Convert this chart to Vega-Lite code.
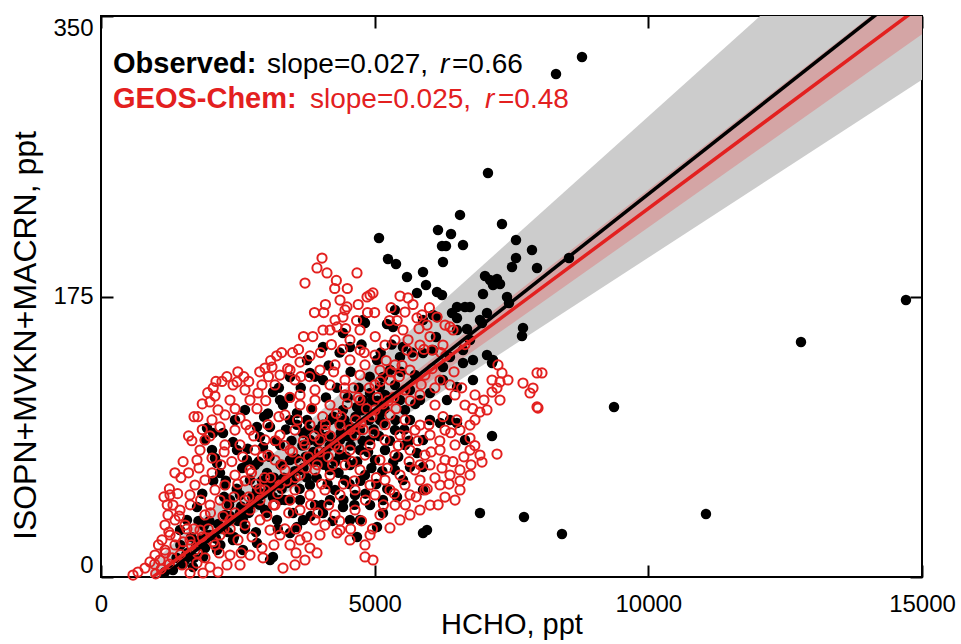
{
"$schema": "https://vega.github.io/schema/vega-lite/v6.json",
"width": 821, "height": 561,
"autosize": {"type": "none"},
"padding": {"left": 101, "top": 16, "right": 39, "bottom": 67},
"background": "white",
"config": {
 "view": {"stroke": "black", "strokeWidth": 2},
 "axis": {"grid": false, "domain": false, "tickColor": "black", "tickWidth": 2, "tickSize": 12, "offset": -12, "labelFont": "Liberation Sans", "labelFontSize": 24, "labelColor": "black", "titleFont": "Liberation Sans", "titleFontSize": 29, "titleFontWeight": "normal", "titleColor": "black"}
},
"resolve": {"axis": {"x": "independent", "y": "independent"}},
"datasets": {
 "grey": [{"hcho": 900, "lo": -2.7, "hi": 8.0}, {"hcho": 15000, "lo": 310.2, "hi": 440.8}],
 "pink": [{"hcho": 950, "lo": 0, "hi": 0}, {"hcho": 15000, "lo": 338.6, "hi": 375.2}],
 "fitobs": [{"hcho": 1120, "val": 0}, {"hcho": 15000, "val": 373.4}],
 "fitgc": [{"hcho": 950, "val": 0}, {"hcho": 15000, "val": 356.9}],
 "legend": [
  {"hcho": 219, "val": 314.4, "txt": "Observed:", "part": "bold", "c": "obs"},
  {"hcho": 3033, "val": 314.4, "txt": "slope=0.027,", "part": "reg", "c": "obs"},
  {"hcho": 6194, "val": 314.4, "txt": "r", "part": "ital", "c": "obs"},
  {"hcho": 6413, "val": 314.4, "txt": "=0.66", "part": "reg", "c": "obs"},
  {"hcho": 219, "val": 292.6, "txt": "GEOS-Chem:", "part": "bold", "c": "gc"},
  {"hcho": 3818, "val": 292.6, "txt": "slope=0.025,", "part": "reg", "c": "gc"},
  {"hcho": 7016, "val": 292.6, "txt": "r", "part": "ital", "c": "gc"},
  {"hcho": 7253, "val": 292.6, "txt": "=0.48", "part": "reg", "c": "gc"}
 ],
 "obs": [
{"hcho":8788,"val":324.4},{"hcho":8313,"val":313.8},{"hcho":7070,"val":252.1},{"hcho":7326,"val":220.2},{"hcho":6559,"val":225.9},{"hcho":6157,"val":216.5},{"hcho":6395,"val":214.0},{"hcho":5079,"val":211.5},{"hcho":6230,"val":206.5},{"hcho":6303,"val":206.5},{"hcho":6614,"val":207.1},{"hcho":7582,"val":210.3},{"hcho":7874,"val":204.0},{"hcho":5243,"val":198.4},{"hcho":5390,"val":195.3},{"hcho":6248,"val":196.5},{"hcho":7582,"val":199.0},{"hcho":7509,"val":193.4},{"hcho":7966,"val":192.8},{"hcho":8550,"val":199.0},{"hcho":5883,"val":190.3},{"hcho":5591,"val":187.2},{"hcho":7016,"val":187.8},{"hcho":7107,"val":185.3},{"hcho":7235,"val":185.9},{"hcho":7162,"val":182.2},{"hcho":7290,"val":182.8},{"hcho":5938,"val":182.2},{"hcho":6139,"val":177.8},{"hcho":6230,"val":175.9},{"hcho":5773,"val":177.2},{"hcho":6979,"val":176.6},{"hcho":7418,"val":174.7},{"hcho":7454,"val":170.9},{"hcho":6650,"val":168.5},{"hcho":6413,"val":164.7},{"hcho":6504,"val":161.6},{"hcho":6066,"val":163.5},{"hcho":6961,"val":158.5},{"hcho":6687,"val":154.7},{"hcho":7710,"val":155.4},{"hcho":7692,"val":150.4},{"hcho":5371,"val":166.6},{"hcho":4823,"val":158.5},{"hcho":5225,"val":157.8},{"hcho":6120,"val":149.7},{"hcho":6742,"val":147.9},{"hcho":7144,"val":133.5},{"hcho":9373,"val":106.1},{"hcho":12789,"val":146.6},{"hcho":14707,"val":172.8},{"hcho":7144,"val":88.0},{"hcho":6924,"val":39.9},{"hcho":7728,"val":37.4},{"hcho":8422,"val":26.8},{"hcho":11053,"val":39.3},
{"hcho":6011,"val":114.8},{"hcho":6248,"val":122.9},{"hcho":6504,"val":118.5},{"hcho":6796,"val":122.9},{"hcho":6614,"val":133.5},{"hcho":6796,"val":135.4},{"hcho":7052,"val":138.5},{"hcho":6248,"val":131.0},{"hcho":6376,"val":137.3},{"hcho":6066,"val":141.6},{"hcho":5883,"val":139.8},{"hcho":6614,"val":141.6},{"hcho":5883,"val":160.3},{"hcho":6139,"val":162.2},{"hcho":6504,"val":154.1},{"hcho":6924,"val":160.3},{"hcho":7162,"val":135.4},{"hcho":6504,"val":168.5},{"hcho":6742,"val":168.5},{"hcho":7052,"val":164.7},{"hcho":6504,"val":96.1},{"hcho":6376,"val":98.0},{"hcho":6011,"val":98.0},{"hcho":6194,"val":96.1},{"hcho":5883,"val":85.5},{"hcho":5773,"val":77.4},{"hcho":5645,"val":68.6},{"hcho":5518,"val":60.5},{"hcho":5883,"val":68.6},{"hcho":5883,"val":54.3},{"hcho":5883,"val":27.5},{"hcho":5956,"val":29.3},{"hcho":5408,"val":49.9},{"hcho":5152,"val":48.0},{"hcho":5152,"val":39.9},{"hcho":5043,"val":31.2},{"hcho":4677,"val":25.0},{"hcho":4421,"val":43.7},{"hcho":4056,"val":39.9},{"hcho":3691,"val":35.6},{"hcho":3453,"val":27.5},{"hcho":3216,"val":35.6},{"hcho":2594,"val":35.6},{"hcho":2850,"val":21.2},{"hcho":3088,"val":10.6},{"hcho":4421,"val":104.2},{"hcho":4549,"val":93.6},{"hcho":4677,"val":106.1},{"hcho":4787,"val":110.4},{"hcho":4915,"val":114.8},{"hcho":5097,"val":118.5},{"hcho":5152,"val":124.8},{"hcho":5280,"val":129.1},{"hcho":5463,"val":137.3},{"hcho":5335,"val":156.0},{"hcho":5518,"val":143.5},{"hcho":5043,"val":135.4},{"hcho":4787,"val":160.3},{"hcho":4421,"val":152.2},{"hcho":4549,"val":143.5},{"hcho":4056,"val":143.5},{"hcho":3764,"val":135.4},{"hcho":3818,"val":127.3},{"hcho":4056,"val":122.9},{"hcho":3453,"val":124.8},{"hcho":3270,"val":110.4},{"hcho":3142,"val":115.4},{"hcho":3325,"val":107.3},{"hcho":3453,"val":98.0},{"hcho":3581,"val":102.3},{"hcho":3764,"val":98.0},{"hcho":3691,"val":89.8},{"hcho":3818,"val":85.5},{"hcho":4056,"val":87.3},{"hcho":4184,"val":98.0},{"hcho":3088,"val":93.6},{"hcho":2850,"val":93.6},{"hcho":2905,"val":87.3},{"hcho":2960,"val":81.1},{"hcho":2667,"val":73.0},{"hcho":2412,"val":84.2},{"hcho":2229,"val":89.8},{"hcho":2485,"val":79.2},{"hcho":1937,"val":93.0},{"hcho":2046,"val":89.8},{"hcho":1900,"val":85.5},{"hcho":2028,"val":79.2},{"hcho":2083,"val":74.2},{"hcho":2174,"val":64.9},{"hcho":2119,"val":71.1},{"hcho":3142,"val":12.5},{"hcho":2412,"val":23.1},{"hcho":1571,"val":35.6},{"hcho":1754,"val":43.7},{"hcho":3033,"val":64.9},{"hcho":2850,"val":54.3},{"hcho":3398,"val":58.6},{"hcho":3270,"val":48.0},{"hcho":3508,"val":39.9},{"hcho":3581,"val":31.2},{"hcho":2594,"val":16.8},{"hcho":2119,"val":16.8},{"hcho":1864,"val":12.5},{"hcho":1681,"val":6.2},{"hcho":1315,"val":4.4},{"hcho":1443,"val":29.3},{"hcho":1809,"val":23.1},{"hcho":1169,"val":3.1},{"hcho":1535,"val":10.6},{"hcho":1991,"val":26.2},{"hcho":2265,"val":38.7},{"hcho":2357,"val":48.0},{"hcho":2540,"val":51.2},{"hcho":2722,"val":60.5},
{"hcho":4001,"val":73.0},{"hcho":4184,"val":66.8},{"hcho":4367,"val":76.1},{"hcho":4549,"val":69.9},{"hcho":4732,"val":79.2},{"hcho":4275,"val":54.3},{"hcho":4458,"val":60.5},{"hcho":4641,"val":51.2},{"hcho":4823,"val":63.6},{"hcho":5006,"val":73.0},{"hcho":4915,"val":85.5},{"hcho":5189,"val":79.2},{"hcho":5371,"val":66.8},{"hcho":3636,"val":66.8},{"hcho":3818,"val":57.4},{"hcho":3453,"val":73.0},{"hcho":3270,"val":82.4},{"hcho":3636,"val":48.0},{"hcho":3910,"val":44.9},{"hcho":4184,"val":48.0},{"hcho":2996,"val":41.8},{"hcho":2814,"val":69.9},{"hcho":3088,"val":57.4},{"hcho":4732,"val":35.6},{"hcho":4915,"val":44.9},{"hcho":4549,"val":35.6},{"hcho":5371,"val":91.7},{"hcho":5554,"val":82.4},{"hcho":5645,"val":98.0},{"hcho":5097,"val":98.0},{"hcho":4732,"val":91.7},{"hcho":4367,"val":85.5},{"hcho":4092,"val":76.1},{"hcho":5463,"val":110.4},{"hcho":5645,"val":116.7},{"hcho":5737,"val":126.0},{"hcho":5828,"val":110.4},{"hcho":5554,"val":104.2},{"hcho":6650,"val":85.5},{"hcho":6321,"val":110.4},{"hcho":5371,"val":119.8},{"hcho":5189,"val":113.6},{"hcho":2631,"val":104.2},{"hcho":2448,"val":98.0},{"hcho":2265,"val":57.4},
{"hcho":2230,"val":30},{"hcho":2340,"val":45},{"hcho":2280,"val":60},{"hcho":2430,"val":25},{"hcho":2540,"val":40},{"hcho":2480,"val":55},{"hcho":2580,"val":68},{"hcho":2630,"val":30},{"hcho":2740,"val":45},{"hcho":2680,"val":80},{"hcho":2830,"val":28},{"hcho":2940,"val":60},{"hcho":2880,"val":72},{"hcho":2980,"val":100},{"hcho":3030,"val":40},{"hcho":3140,"val":50},{"hcho":3080,"val":75},{"hcho":3180,"val":85},{"hcho":3050,"val":102},{"hcho":3230,"val":30},{"hcho":3340,"val":62},{"hcho":3280,"val":70},{"hcho":3380,"val":92},{"hcho":3250,"val":118},{"hcho":3430,"val":48},{"hcho":3540,"val":66},{"hcho":3480,"val":85},{"hcho":3580,"val":95},{"hcho":3450,"val":112},{"hcho":3630,"val":55},{"hcho":3740,"val":75},{"hcho":3680,"val":82},{"hcho":3780,"val":92},{"hcho":3650,"val":118},{"hcho":3830,"val":38},{"hcho":3940,"val":62},{"hcho":3880,"val":78},{"hcho":3980,"val":92},{"hcho":3850,"val":105},{"hcho":3910,"val":125},{"hcho":4030,"val":45},{"hcho":4140,"val":58},{"hcho":4080,"val":70},{"hcho":4180,"val":82},{"hcho":4050,"val":95},{"hcho":4110,"val":112},{"hcho":4160,"val":132},{"hcho":4230,"val":35},{"hcho":4340,"val":65},{"hcho":4280,"val":72},{"hcho":4380,"val":90},{"hcho":4250,"val":100},{"hcho":4310,"val":118},{"hcho":4360,"val":140},{"hcho":4430,"val":48},{"hcho":4540,"val":58},{"hcho":4480,"val":75},{"hcho":4580,"val":88},{"hcho":4450,"val":98},{"hcho":4510,"val":112},{"hcho":4560,"val":128},{"hcho":4630,"val":45},{"hcho":4740,"val":60},{"hcho":4680,"val":72},{"hcho":4780,"val":85},{"hcho":4650,"val":100},{"hcho":4710,"val":118},{"hcho":4760,"val":145},{"hcho":4830,"val":52},{"hcho":4940,"val":68},{"hcho":4880,"val":78},{"hcho":4980,"val":92},{"hcho":4850,"val":105},{"hcho":4910,"val":125},{"hcho":5030,"val":58},{"hcho":5140,"val":66},{"hcho":5080,"val":88},{"hcho":5180,"val":105},{"hcho":5050,"val":110},{"hcho":5110,"val":140},{"hcho":5230,"val":55},{"hcho":5340,"val":72},{"hcho":5280,"val":85},{"hcho":5380,"val":98},{"hcho":5250,"val":112},{"hcho":5310,"val":145},{"hcho":5430,"val":75},{"hcho":5540,"val":92},{"hcho":5480,"val":128},{"hcho":5630,"val":85},{"hcho":5740,"val":108},{"hcho":5680,"val":140},{"hcho":1380,"val":12},{"hcho":1450,"val":20},{"hcho":1580,"val":15},{"hcho":1650,"val":25},{"hcho":1780,"val":35},{"hcho":1850,"val":52},{"hcho":1980,"val":35},{"hcho":2050,"val":60},{"hcho":2180,"val":20},{"hcho":2250,"val":50},
{"hcho":1500,"val":8},{"hcho":1560,"val":14},{"hcho":1700,"val":12},{"hcho":1740,"val":20},{"hcho":1900,"val":18},{"hcho":1940,"val":26},{"hcho":1880,"val":32},{"hcho":2100,"val":24},{"hcho":2140,"val":33},{"hcho":2320,"val":28},{"hcho":2360,"val":38},{"hcho":2500,"val":35},{"hcho":2560,"val":44},{"hcho":2700,"val":40},{"hcho":2760,"val":50},{"hcho":2900,"val":45},{"hcho":2960,"val":52},{"hcho":3100,"val":55},{"hcho":3160,"val":62},{"hcho":3300,"val":55},{"hcho":3360,"val":48},{"hcho":3500,"val":60},{"hcho":3560,"val":74},{"hcho":3700,"val":68},{"hcho":3760,"val":62},{"hcho":3900,"val":72},{"hcho":3960,"val":84},{"hcho":4100,"val":78},{"hcho":4160,"val":88},{"hcho":4300,"val":82},{"hcho":4360,"val":96},{"hcho":4500,"val":88},{"hcho":4560,"val":82},{"hcho":4700,"val":92},{"hcho":4760,"val":104},{"hcho":4900,"val":98},{"hcho":4960,"val":110},{"hcho":5100,"val":102},{"hcho":5160,"val":96}
 ],
 "gc": [
{"hcho":4038,"val":199.0},{"hcho":3946,"val":192.8},{"hcho":4129,"val":189.7},{"hcho":3727,"val":183.4},{"hcho":4677,"val":189.7},{"hcho":4969,"val":177.2},{"hcho":4860,"val":174.7},{"hcho":4458,"val":166.6},{"hcho":4275,"val":160.3},{"hcho":4184,"val":154.1},{"hcho":4367,"val":172.8},{"hcho":5463,"val":175.3},{"hcho":5609,"val":174.1},{"hcho":5554,"val":165.3},{"hcho":5518,"val":154.1},{"hcho":5773,"val":161.6},{"hcho":5865,"val":163.5},{"hcho":6139,"val":162.2},{"hcho":6285,"val":157.2},{"hcho":6431,"val":154.1},{"hcho":5828,"val":144.7},{"hcho":6047,"val":141.6},{"hcho":6248,"val":144.7},{"hcho":5591,"val":141.6},{"hcho":5371,"val":147.9},{"hcho":5189,"val":144.7},{"hcho":5006,"val":138.5},{"hcho":4732,"val":141.6},{"hcho":4549,"val":147.9},{"hcho":4732,"val":154.1},{"hcho":3818,"val":137.9},{"hcho":3636,"val":134.1},{"hcho":3453,"val":129.1},{"hcho":3544,"val":122.9},{"hcho":3270,"val":126.0},{"hcho":2996,"val":130.4},{"hcho":3124,"val":131.0},{"hcho":3179,"val":119.8},{"hcho":2941,"val":119.8},{"hcho":2485,"val":121.7},{"hcho":2412,"val":119.8},{"hcho":2631,"val":116.7},{"hcho":2722,"val":110.4},{"hcho":2868,"val":114.8},{"hcho":2357,"val":110.4},{"hcho":2083,"val":112.9},{"hcho":1991,"val":109.2},{"hcho":2138,"val":104.2},{"hcho":2265,"val":101.1},{"hcho":2540,"val":99.2},{"hcho":2028,"val":98.0},{"hcho":2174,"val":93.6},{"hcho":2448,"val":91.7},{"hcho":2722,"val":91.7},{"hcho":1900,"val":85.5},{"hcho":1809,"val":79.2},{"hcho":1754,"val":73.0},{"hcho":2028,"val":74.2},{"hcho":2265,"val":82.4},{"hcho":2540,"val":82.4},{"hcho":2814,"val":79.2},{"hcho":3051,"val":76.1},{"hcho":2722,"val":66.8},{"hcho":2448,"val":63.6},{"hcho":2265,"val":57.4},{"hcho":2083,"val":54.3},{"hcho":1900,"val":60.5},{"hcho":1717,"val":57.4},{"hcho":1626,"val":51.2},{"hcho":1261,"val":51.2},{"hcho":1315,"val":44.9},{"hcho":1224,"val":38.7},{"hcho":1352,"val":35.6},{"hcho":1169,"val":32.4},{"hcho":1261,"val":26.2},{"hcho":1114,"val":23.1},{"hcho":1352,"val":20.0},{"hcho":1169,"val":16.8},{"hcho":1078,"val":10.6},{"hcho":895,"val":9.4},{"hcho":804,"val":5.6},{"hcho":676,"val":3.1},{"hcho":585,"val":1.2},{"hcho":1443,"val":41.8},{"hcho":1535,"val":32.4},{"hcho":1626,"val":23.1},{"hcho":1717,"val":16.8},{"hcho":1480,"val":7.5},{"hcho":1809,"val":29.3},{"hcho":1900,"val":38.7},{"hcho":1991,"val":44.9},{"hcho":2174,"val":48.0},{"hcho":2357,"val":35.6},{"hcho":2174,"val":26.2},{"hcho":2083,"val":20.0},{"hcho":2357,"val":13.7},{"hcho":2503,"val":23.1},{"hcho":2631,"val":32.4},{"hcho":2905,"val":35.6},{"hcho":3088,"val":29.3},{"hcho":3270,"val":26.2},{"hcho":2722,"val":13.7},{"hcho":2540,"val":7.5},{"hcho":2941,"val":18.1},{"hcho":3453,"val":20.0},{"hcho":3636,"val":23.1},{"hcho":3818,"val":18.1},{"hcho":4001,"val":26.2},{"hcho":3325,"val":5.6},{"hcho":3544,"val":7.5},{"hcho":3727,"val":10.6},{"hcho":3910,"val":35.6},{"hcho":4092,"val":32.4},{"hcho":4367,"val":29.3},{"hcho":4549,"val":23.1},{"hcho":4823,"val":20.0},{"hcho":4915,"val":26.2},{"hcho":4823,"val":12.5},{"hcho":4969,"val":10.6},{"hcho":5280,"val":30.6},{"hcho":5463,"val":35.6},{"hcho":5645,"val":38.7},{"hcho":5828,"val":41.8},{"hcho":6011,"val":44.9},{"hcho":6285,"val":49.9},{"hcho":6468,"val":48.0},{"hcho":6559,"val":54.3},{"hcho":6194,"val":57.4},{"hcho":5919,"val":54.3},{"hcho":5645,"val":51.2},{"hcho":5371,"val":44.9},{"hcho":5097,"val":38.7},{"hcho":4641,"val":41.8},{"hcho":4275,"val":38.7},{"hcho":3636,"val":41.8},{"hcho":3453,"val":48.0},{"hcho":3179,"val":44.9},{"hcho":2905,"val":48.0},{"hcho":2722,"val":41.8},{"hcho":2631,"val":48.0},{"hcho":2996,"val":54.3},{"hcho":3270,"val":57.4},{"hcho":3544,"val":54.3},{"hcho":3818,"val":51.2},{"hcho":4092,"val":54.3},{"hcho":4367,"val":51.2},{"hcho":4641,"val":54.3},{"hcho":4915,"val":57.4},{"hcho":5189,"val":60.5},{"hcho":5463,"val":63.6},{"hcho":5737,"val":66.8},{"hcho":6011,"val":69.9},{"hcho":6285,"val":73.0},{"hcho":6559,"val":66.8},{"hcho":6742,"val":63.6},{"hcho":6376,"val":63.6},{"hcho":6102,"val":61.8},{"hcho":5828,"val":60.5},{"hcho":5554,"val":57.4},{"hcho":5280,"val":54.3},{"hcho":5006,"val":51.2},{"hcho":4732,"val":66.8},{"hcho":4458,"val":69.9},{"hcho":4184,"val":63.6},{"hcho":3910,"val":66.8},{"hcho":3636,"val":63.6},{"hcho":3362,"val":66.8},{"hcho":3179,"val":73.0},{"hcho":3453,"val":79.2},{"hcho":3727,"val":82.4},{"hcho":4001,"val":85.5},{"hcho":4275,"val":82.4},{"hcho":4549,"val":79.2},{"hcho":4823,"val":76.1},{"hcho":5097,"val":73.0},{"hcho":5371,"val":76.1},{"hcho":5645,"val":79.2},{"hcho":5919,"val":76.1},{"hcho":6194,"val":79.2},{"hcho":6468,"val":82.4},{"hcho":6742,"val":79.2},{"hcho":6924,"val":76.1},{"hcho":6559,"val":91.7},{"hcho":6742,"val":86.7},{"hcho":6285,"val":91.7},{"hcho":6011,"val":88.6},{"hcho":5737,"val":91.7},{"hcho":5463,"val":88.6},{"hcho":5189,"val":85.5},{"hcho":4915,"val":82.4},{"hcho":4641,"val":88.6},{"hcho":4367,"val":94.8},{"hcho":4092,"val":91.7},{"hcho":3818,"val":94.8},{"hcho":3544,"val":91.7},{"hcho":3270,"val":88.6},{"hcho":2996,"val":85.5},{"hcho":3362,"val":101.1},{"hcho":3636,"val":107.3},{"hcho":3910,"val":110.4},{"hcho":4184,"val":107.3},{"hcho":4458,"val":113.6},{"hcho":4732,"val":110.4},{"hcho":5006,"val":104.2},{"hcho":5280,"val":101.1},{"hcho":5554,"val":98.0},{"hcho":5828,"val":94.8},{"hcho":6102,"val":107.3},{"hcho":5828,"val":113.6},{"hcho":5554,"val":116.7},{"hcho":5280,"val":122.9},{"hcho":5006,"val":119.8},{"hcho":4732,"val":126.0},{"hcho":4458,"val":122.9},{"hcho":4184,"val":119.8},{"hcho":3910,"val":116.7},{"hcho":3636,"val":113.6},{"hcho":4001,"val":129.1},{"hcho":4275,"val":132.3},{"hcho":4549,"val":135.4},{"hcho":4823,"val":132.3},{"hcho":5097,"val":129.1},{"hcho":5371,"val":132.3},{"hcho":5645,"val":129.1},{"hcho":5919,"val":126.0},{"hcho":6194,"val":122.9},{"hcho":6376,"val":119.8},{"hcho":6468,"val":113.6},{"hcho":6650,"val":107.3},{"hcho":7253,"val":132.3},{"hcho":7144,"val":122.9},{"hcho":7326,"val":127.3},{"hcho":7436,"val":122.9},{"hcho":7290,"val":121.7},{"hcho":7235,"val":117.9},{"hcho":7144,"val":115.4},{"hcho":7290,"val":110.4},{"hcho":7710,"val":121.0},{"hcho":7893,"val":117.9},{"hcho":7838,"val":114.8},{"hcho":8057,"val":127.3},{"hcho":7984,"val":105.4},{"hcho":7052,"val":104.2},{"hcho":6924,"val":102.9},{"hcho":7235,"val":76.7},{"hcho":6961,"val":71.7},{"hcho":6833,"val":98.0},{"hcho":6742,"val":94.8},{"hcho":6833,"val":113.6},{"hcho":6997,"val":110.4},{"hcho":987,"val":13.7},{"hcho":1991,"val":6.2},{"hcho":2302,"val":7.5},{"hcho":2138,"val":3.1},{"hcho":1864,"val":2.5},{"hcho":1754,"val":8.7},{"hcho":1626,"val":2.5},{"hcho":4915,"val":175.9},{"hcho":4494,"val":168.5},{"hcho":4421,"val":162.2},{"hcho":4312,"val":156.0},{"hcho":4056,"val":154.1},{"hcho":5956,"val":157.2},{"hcho":6376,"val":156.0},{"hcho":3563,"val":15.0},{"hcho":3946,"val":15.0},{"hcho":4312,"val":27.5},{"hcho":7966,"val":127.3},{"hcho":7966,"val":106.1},
{"hcho":980,"val":8},{"hcho":1050,"val":20},{"hcho":1180,"val":15},{"hcho":1240,"val":28},{"hcho":1210,"val":45},{"hcho":1370,"val":25},{"hcho":1430,"val":38},{"hcho":1400,"val":52},{"hcho":1460,"val":62},{"hcho":1570,"val":30},{"hcho":1630,"val":45},{"hcho":1600,"val":65},{"hcho":1660,"val":85},{"hcho":1760,"val":15},{"hcho":1820,"val":48},{"hcho":1790,"val":68},{"hcho":1850,"val":92},{"hcho":1770,"val":100},{"hcho":1960,"val":30},{"hcho":2030,"val":65},{"hcho":1990,"val":88},{"hcho":2050,"val":118},{"hcho":2160,"val":15},{"hcho":2230,"val":38},{"hcho":2190,"val":70},{"hcho":2250,"val":78},{"hcho":2210,"val":122},{"hcho":2360,"val":30},{"hcho":2430,"val":50},{"hcho":2390,"val":72},{"hcho":2450,"val":105},{"hcho":2560,"val":15},{"hcho":2630,"val":60},{"hcho":2590,"val":75},{"hcho":2650,"val":95},{"hcho":2610,"val":125},{"hcho":2760,"val":25},{"hcho":2830,"val":58},{"hcho":2790,"val":88},{"hcho":2850,"val":105},{"hcho":2960,"val":12},{"hcho":3030,"val":38},{"hcho":2990,"val":62},{"hcho":3050,"val":95},{"hcho":3010,"val":110},{"hcho":3060,"val":125},{"hcho":3160,"val":20},{"hcho":3230,"val":52},{"hcho":3190,"val":85},{"hcho":3250,"val":100},{"hcho":3210,"val":138},{"hcho":3360,"val":30},{"hcho":3430,"val":40},{"hcho":3390,"val":60},{"hcho":3450,"val":112},{"hcho":3410,"val":130},{"hcho":3560,"val":30},{"hcho":3630,"val":72},{"hcho":3590,"val":98},{"hcho":3650,"val":125},{"hcho":3610,"val":142},{"hcho":3760,"val":25},{"hcho":3830,"val":45},{"hcho":3790,"val":75},{"hcho":3850,"val":105},{"hcho":3810,"val":125},{"hcho":3870,"val":150},{"hcho":3960,"val":40},{"hcho":4030,"val":58},{"hcho":3990,"val":78},{"hcho":4050,"val":100},{"hcho":4010,"val":140},{"hcho":4070,"val":165},{"hcho":4160,"val":45},{"hcho":4230,"val":70},{"hcho":4190,"val":88},{"hcho":4250,"val":128},{"hcho":4210,"val":145},{"hcho":4270,"val":180},{"hcho":4360,"val":35},{"hcho":4430,"val":58},{"hcho":4390,"val":100},{"hcho":4450,"val":118},{"hcho":4410,"val":142},{"hcho":4470,"val":155},{"hcho":4560,"val":30},{"hcho":4630,"val":60},{"hcho":4590,"val":72},{"hcho":4650,"val":98},{"hcho":4610,"val":118},{"hcho":4670,"val":160},{"hcho":4760,"val":35},{"hcho":4830,"val":48},{"hcho":4790,"val":92},{"hcho":4850,"val":105},{"hcho":4810,"val":140},{"hcho":4870,"val":165},{"hcho":4960,"val":30},{"hcho":5030,"val":62},{"hcho":4990,"val":90},{"hcho":5050,"val":112},{"hcho":5010,"val":150},{"hcho":5160,"val":45},{"hcho":5230,"val":68},{"hcho":5190,"val":95},{"hcho":5250,"val":110},{"hcho":5210,"val":135},{"hcho":5270,"val":160},{"hcho":5360,"val":52},{"hcho":5430,"val":82},{"hcho":5390,"val":105},{"hcho":5450,"val":125},{"hcho":5410,"val":160},{"hcho":5560,"val":45},{"hcho":5630,"val":72},{"hcho":5590,"val":88},{"hcho":5650,"val":110},{"hcho":5610,"val":148},{"hcho":5760,"val":50},{"hcho":5830,"val":70},{"hcho":5790,"val":85},{"hcho":5850,"val":120},{"hcho":5810,"val":155},{"hcho":5960,"val":55},{"hcho":6030,"val":78},{"hcho":5990,"val":95},{"hcho":6050,"val":130},{"hcho":6010,"val":150},{"hcho":6160,"val":45},{"hcho":6230,"val":68},{"hcho":6190,"val":85},{"hcho":6250,"val":100},{"hcho":6210,"val":140},{"hcho":6360,"val":58},{"hcho":6430,"val":72},{"hcho":6390,"val":90},{"hcho":6450,"val":128},{"hcho":6560,"val":60},{"hcho":6630,"val":75},{"hcho":6590,"val":118},{"hcho":6650,"val":145},{"hcho":6760,"val":70},{"hcho":6830,"val":82},{"hcho":6790,"val":105},
{"hcho":1000,"val":2},{"hcho":1100,"val":5},{"hcho":1250,"val":8},{"hcho":1300,"val":12},{"hcho":1450,"val":14},{"hcho":1500,"val":22},{"hcho":1650,"val":20},{"hcho":1700,"val":30},{"hcho":1850,"val":25},{"hcho":1900,"val":12},{"hcho":2000,"val":40},{"hcho":2050,"val":22},{"hcho":2250,"val":30},{"hcho":2300,"val":45},{"hcho":2450,"val":40},{"hcho":2500,"val":58},{"hcho":2700,"val":50},{"hcho":2750,"val":65},{"hcho":2900,"val":55},{"hcho":2950,"val":75},{"hcho":3100,"val":62},{"hcho":3150,"val":45},{"hcho":3300,"val":70},{"hcho":3350,"val":82},{"hcho":3500,"val":78},{"hcho":3550,"val":62},{"hcho":3700,"val":85},{"hcho":3750,"val":68},{"hcho":3900,"val":88},{"hcho":3950,"val":70},{"hcho":4100,"val":95},{"hcho":4150,"val":75},{"hcho":4300,"val":102},{"hcho":4350,"val":80},{"hcho":4500,"val":108},{"hcho":4550,"val":92},{"hcho":4700,"val":112},{"hcho":4750,"val":96},{"hcho":4900,"val":118},{"hcho":4950,"val":100},{"hcho":5100,"val":122},{"hcho":5150,"val":108},{"hcho":5300,"val":128},{"hcho":5350,"val":112},{"hcho":5500,"val":132},{"hcho":5700,"val":138},{"hcho":5900,"val":142},{"hcho":6100,"val":118},{"hcho":6300,"val":138},{"hcho":6500,"val":98},
{"hcho":1150,"val":50},{"hcho":1250,"val":55},{"hcho":1350,"val":65},{"hcho":1500,"val":72},{"hcho":1600,"val":88},{"hcho":1700,"val":100},{"hcho":1850,"val":108},{"hcho":1950,"val":115},{"hcho":2100,"val":122},{"hcho":2300,"val":125},{"hcho":2500,"val":128},{"hcho":2700,"val":122},{"hcho":2900,"val":128},{"hcho":3100,"val":135},{"hcho":3300,"val":140},{"hcho":3500,"val":140},{"hcho":3700,"val":150},{"hcho":3900,"val":165},{"hcho":4100,"val":170},{"hcho":4300,"val":185},{"hcho":4500,"val":180},{"hcho":4700,"val":170},{"hcho":5000,"val":165},{"hcho":5300,"val":168},{"hcho":5700,"val":170},{"hcho":6000,"val":168}
 ]
},
"layer": [
 {"data": {"name": "grey"}, "mark": {"type": "area", "color": "#cccccc", "clip": true},
  "encoding": {
   "x": {"field": "hcho", "type": "quantitative", "scale": {"domain": [0, 15000], "nice": false, "zero": false},
         "axis": {"orient": "bottom", "values": [0, 5000, 10000, 15000], "format": "d", "labelFlush": false, "labelPadding": 15, "title": "HCHO, ppt", "titlePadding": -6}},
   "y": {"field": "lo", "type": "quantitative", "scale": {"domain": [0, 350], "nice": false, "zero": false},
         "axis": {"orient": "left", "values": [0, 175, 350], "labelFlush": true, "labelPadding": 8, "title": "ISOPN+MVKN+MACRN, ppt", "titleFontSize": 32, "titleX": -78, "titleY": 319, "titleAlign": "center", "titleBaseline": "alphabetic", "titleAngle": 270}},
   "y2": {"field": "hi"}
  }},
 {"data": {"name": "pink"}, "mark": {"type": "area", "color": "#d4a5a5", "clip": true},
  "encoding": {
   "x": {"field": "hcho", "type": "quantitative", "axis": null},
   "y": {"field": "lo", "type": "quantitative", "axis": null},
   "y2": {"field": "hi"}
  }},
 {"data": {"name": "obs"}, "mark": {"type": "point", "shape": "circle", "filled": true, "color": "black", "opacity": 1, "size": 110},
  "encoding": {
   "x": {"field": "hcho", "type": "quantitative", "axis": null},
   "y": {"field": "val", "type": "quantitative", "axis": null}
  }},
 {"data": {"name": "gc"}, "mark": {"type": "point", "shape": "circle", "filled": false, "color": "#e3201f", "strokeWidth": 2, "opacity": 1, "size": 85},
  "encoding": {
   "x": {"field": "hcho", "type": "quantitative", "axis": null},
   "y": {"field": "val", "type": "quantitative", "axis": null}
  }},
 {"data": {"name": "fitobs"}, "mark": {"type": "line", "color": "black", "strokeWidth": 3.5, "clip": true},
  "encoding": {
   "x": {"field": "hcho", "type": "quantitative", "axis": {"orient": "top", "values": [0, 5000, 10000, 15000], "labels": false, "title": null}},
   "y": {"field": "val", "type": "quantitative", "axis": {"orient": "right", "values": [0, 175, 350], "labels": false, "title": null}}
  }},
 {"data": {"name": "fitgc"}, "mark": {"type": "line", "color": "#e3201f", "strokeWidth": 3.5, "clip": true},
  "encoding": {
   "x": {"field": "hcho", "type": "quantitative", "axis": null},
   "y": {"field": "val", "type": "quantitative", "axis": null}
  }},
 {"data": {"name": "legend"}, "transform": [{"filter": "datum.part === 'bold'"}],
  "mark": {"type": "text", "align": "left", "baseline": "alphabetic", "font": "Liberation Sans", "fontSize": 29, "fontWeight": "bold"},
  "encoding": {
   "x": {"field": "hcho", "type": "quantitative", "axis": null},
   "y": {"field": "val", "type": "quantitative", "axis": null},
   "text": {"field": "txt"},
   "color": {"field": "c", "type": "nominal", "scale": {"domain": ["obs", "gc"], "range": ["black", "#e3201f"]}, "legend": null}
  }},
 {"data": {"name": "legend"}, "transform": [{"filter": "datum.part === 'reg'"}],
  "mark": {"type": "text", "align": "left", "baseline": "alphabetic", "font": "Liberation Sans", "fontSize": 28},
  "encoding": {
   "x": {"field": "hcho", "type": "quantitative", "axis": null},
   "y": {"field": "val", "type": "quantitative", "axis": null},
   "text": {"field": "txt"},
   "color": {"field": "c", "type": "nominal", "legend": null}
  }},
 {"data": {"name": "legend"}, "transform": [{"filter": "datum.part === 'ital'"}],
  "mark": {"type": "text", "align": "left", "baseline": "alphabetic", "font": "Liberation Sans", "fontSize": 28, "fontStyle": "italic"},
  "encoding": {
   "x": {"field": "hcho", "type": "quantitative", "axis": null},
   "y": {"field": "val", "type": "quantitative", "axis": null},
   "text": {"field": "txt"},
   "color": {"field": "c", "type": "nominal", "legend": null}
  }}
]
}
